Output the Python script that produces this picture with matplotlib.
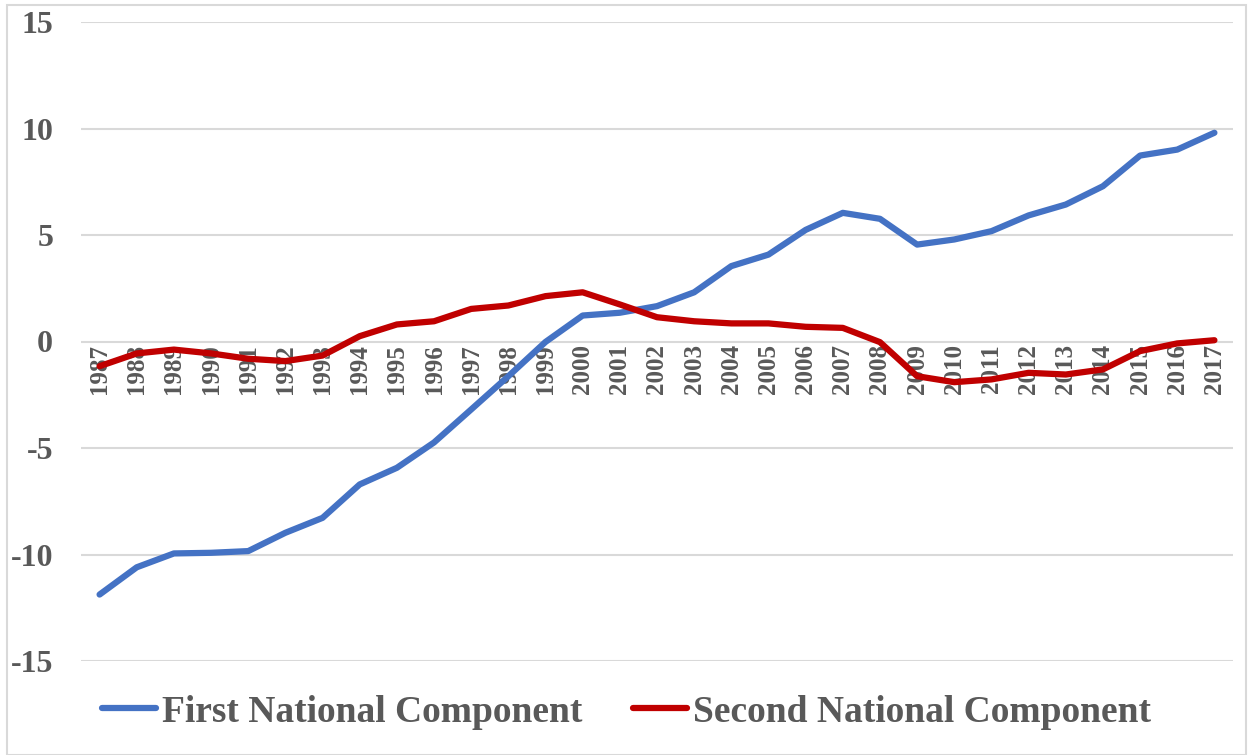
import matplotlib.pyplot as plt
from matplotlib.patches import Rectangle

# data
years = [str(y) for y in range(1987, 2018)]
first_component = [-11.88, -10.6, -9.95, -9.92, -9.84, -8.98, -8.28, -6.71, -5.93, -4.74,
                   -3.19, -1.63, -0.02, 1.22, 1.35, 1.66, 2.31, 3.54, 4.08, 5.24,
                   6.04, 5.76, 4.55, 4.79, 5.18, 5.92, 6.43, 7.29, 8.73, 9.01, 9.80]
second_component = [-1.16, -0.56, -0.38, -0.56, -0.81, -0.92, -0.66, 0.25, 0.80, 0.95,
                    1.53, 1.69, 2.13, 2.31, 1.74, 1.14, 0.95, 0.85, 0.85, 0.69,
                    0.64, -0.03, -1.63, -1.91, -1.78, -1.47, -1.55, -1.31, -0.45, -0.09, 0.06]
y_ticks = [-15, -10, -5, 0, 5, 10, 15]

text_color = "#595959"
grid_color = "#D9D9D9"
plt.rcParams["font.family"] = ["Liberation Serif", "DejaVu Serif"]
plt.rcParams["font.weight"] = "bold"

fig = plt.figure(figsize=(12.53, 7.55), dpi=100)
ax = fig.add_axes([81 / 1253, 94 / 755, (1233 - 81) / 1253, (661 - 22) / 755])

x = list(range(len(years)))
ax.plot(x, first_component, color="#4472C4", lw=4.5, solid_capstyle="round",
        solid_joinstyle="round", label="First National Component", zorder=3)
ax.plot(x, second_component, color="#C00000", lw=4.5, solid_capstyle="round",
        solid_joinstyle="round", label="Second National Component", zorder=3)

ax.set_xlim(-0.5, len(years) - 0.5)
ax.set_ylim(-15, 15)
ax.spines["bottom"].set_position(("data", 0))
for s in ax.spines.values():
    s.set_visible(False)

ax.set_yticks(y_ticks)
ax.set_yticklabels([str(t) for t in y_ticks])
ax.yaxis.grid(True, color=grid_color, lw=1.5)
ax.set_axisbelow(True)

ax.set_xticks(x)
ax.set_xticklabels(years)
ax.tick_params(axis="x", length=0, pad=2, labelsize=18, labelcolor=text_color,
               labelrotation=90)
ax.tick_params(axis="y", length=0, pad=20, labelsize=23, labelcolor=text_color)

fig.legend(loc="center", bbox_to_anchor=(0.5, 43 / 755), ncol=2, frameon=False,
           fontsize=27, handlelength=1.45, handletextpad=0.15, columnspacing=1.35,
           labelcolor=text_color)

# light chart-area border
fig.patches.append(Rectangle((7 / 1253, 0), 1 - 14 / 1253, 1 - 5 / 755,
                             transform=fig.transFigure, fill=False,
                             edgecolor=grid_color, lw=1.5))

fig.savefig("out.png", dpi=100)
